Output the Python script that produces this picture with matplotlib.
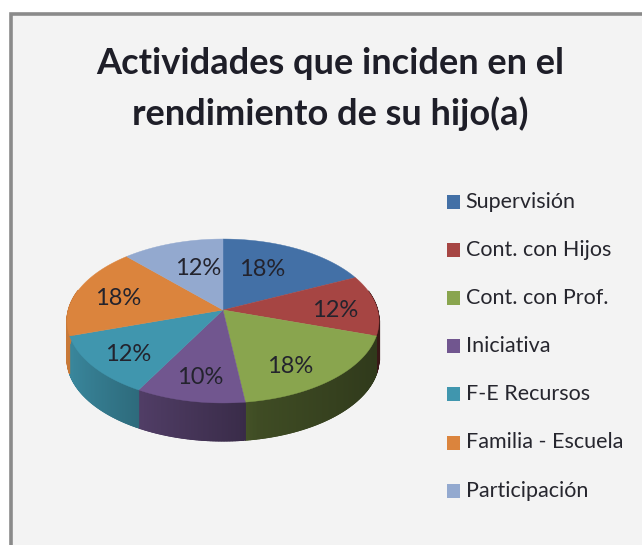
import numpy as np
import matplotlib
matplotlib.use("Agg")
import matplotlib.pyplot as plt
from matplotlib.patches import Rectangle, Polygon
from matplotlib.colors import to_rgb

title = "Actividades que inciden en el\nrendimiento de su hijo(a)"
categories = ["Supervisión", "Cont. con Hijos", "Cont. con Prof.", "Iniciativa",
              "F-E Recursos", "Familia - Escuela", "Participación"]
values = [18, 12, 18, 10, 12, 18, 12]
colors = ["#4370A6", "#A64543", "#89A54E", "#71568F", "#4096AE", "#DB843D", "#93A9CF"]
label_anchor = [(262, 269.5), (335, 310.5), (290, 366.5), (200, 377.5), (128, 354.5), (118, 298.5), (198, 268.5)]

W, H = 642, 545
CX, CY, DEPTH = 223, 310, 38
K, A, B = -0.134, 80.5, 154.6   # perspective of the pie's disc
FONT = "Lato"

def project(angle_deg, r=1.0):
    t = np.radians(angle_deg)
    x, y = r*np.sin(t), r*np.cos(t)
    den = 1 - K*y
    return CX + B*x/den, CY - A*y/den

fig = plt.figure(figsize=(W/100, H/100), dpi=100, facecolor="white")
ax = fig.add_axes([0, 0, 1, 1])
ax.set_xlim(0, W); ax.set_ylim(H, 0); ax.axis("off")
ax.add_patch(Rectangle((11, 14), W + 20, H, fc="#F3F3F3", ec="#8A8A8A", lw=2.6))
ax.text(330, 89, title, ha="center", va="center", fontsize=26, family=FONT,
        weight="bold", color="#1E1E28", linespacing=1.6)

fr = np.array(values)/sum(values)
edges = 360*np.concatenate([[0], np.cumsum(fr)])

# Side wall first, then the top faces over it
for i, c in enumerate(colors):
    for t0 in np.arange(edges[i], edges[i+1], 0.5):
        t1 = min(t0 + 0.8, edges[i+1])
        if np.cos(np.radians(t0)) > 0.25:
            continue
        (x0, y0), (x1, y1) = project(t0), project(t1)
        shade = np.interp(np.sin(np.radians(t0)), [-1, -0.5, 0.1, 0.2, 1], [0.92, 0.72, 0.52, 0.46, 0.34])
        col = tuple(v*shade for v in to_rgb(c))
        ax.add_patch(Polygon([(x0, y0), (x1, y1), (x1, y1+DEPTH), (x0, y0+DEPTH)],
                             fc=col, ec=col, lw=0.8))

for i, c in enumerate(colors):
    ts = np.linspace(edges[i], edges[i+1], 60)
    xs, ys = project(ts)
    ax.add_patch(Polygon(np.column_stack([np.r_[CX, xs], np.r_[CY, ys]]), fc=c, ec=c, lw=0.3))

for v, (lx, ly) in zip(values, label_anchor):
    ax.text(lx, ly, f"{v}%", ha="center", va="center", fontsize=17, family=FONT, color="#23232D")

# Legend
for i, (name, c) in enumerate(zip(categories, colors)):
    y = 201.5 + i*48.2
    ax.add_patch(Rectangle((447, y-7), 13, 14, fc=c, ec="none"))
    ax.text(465.5, y, name, ha="left", va="center", fontsize=15.5, family=FONT, color="#26262E")

fig.savefig("out.png", dpi=100, facecolor=fig.get_facecolor())
